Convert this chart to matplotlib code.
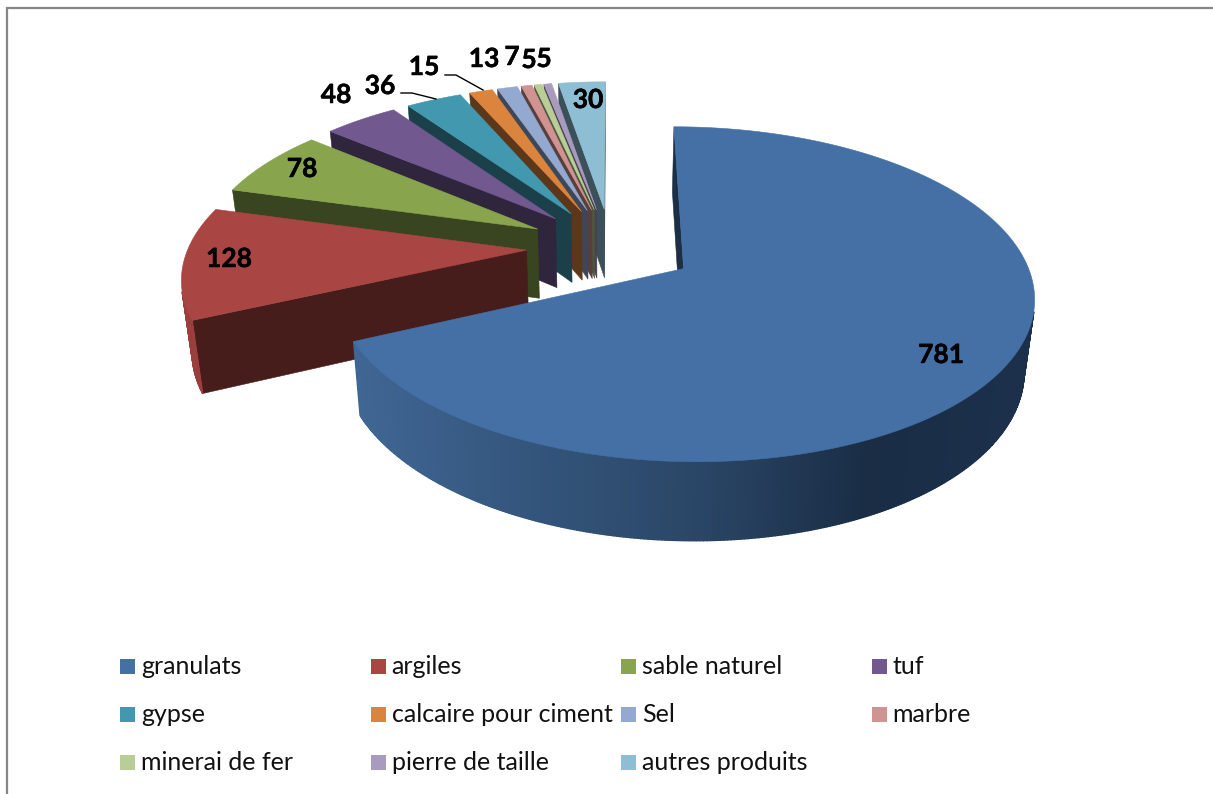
import numpy as np
import matplotlib
matplotlib.use('Agg')
import matplotlib.pyplot as plt
import matplotlib.patheffects as pe
from matplotlib.patches import Polygon, Rectangle
from matplotlib.colors import to_rgb

plt.rcParams['font.family'] = ['Lato', 'DejaVu Sans']

categories = ['granulats', 'argiles', 'sable naturel', 'tuf', 'gypse',
              'calcaire pour ciment', 'Sel', 'marbre', 'minerai de fer',
              'pierre de taille', 'autres produits']
values = [781, 128, 78, 48, 36, 15, 13, 7, 5, 5, 30]
colors = ['#4470A5', '#A94543', '#88A44D', '#71588F', '#4198AF', '#DB843D',
          '#93A9CF', '#D19392', '#B9CD96', '#A99BBD', '#8EBED3']

# data label centres, in the same pixel frame as the pie
label_pos = [(941, 355), (229, 259), (302, 169), (336, 95), (380, 86),
             (424, 67), (484, 59), (512, 57), (529, 60), (544, 59), (588, 100)]

# projection of the tilted pie
CX, CY = 611, 247
RX, RY = 338, 157
PERSP = 0.15
EXPLODE = 0.25
DEPTH = 70
BOTTOM_SCALE = 0.975


def project(u, v, bottom=False):
    s = 1 / (1 + PERSP * v)
    x = RX * u * s
    y = -RY * v * s
    if bottom:
        return CX + x * BOTTOM_SCALE, CY + y * BOTTOM_SCALE + DEPTH * s
    return CX + x, CY + y


def darker(color, f):
    return tuple(c * f for c in to_rgb(color))


def draw_quad(ax, top_a, top_b, low_b, low_a, color, lw=0.4):
    # only faces turned towards the viewer get drawn
    pts = np.array([top_a, top_b, low_b, low_a])
    x, y = pts[:, 0], pts[:, 1]
    area = np.sum(x * np.roll(y, -1) - np.roll(x, -1) * y)
    if area < 0:
        ax.add_patch(Polygon(pts, closed=True, fc=color, ec=color, lw=lw))


def wall_shade(x):
    # horizontal shading of the long outer wall
    stops = [355, 540, 700, 870, 1035]
    reds = [0.25, 0.20, 0.165, 0.10, 0.11]
    greens = [0.40, 0.33, 0.275, 0.175, 0.19]
    blues = [0.58, 0.48, 0.40, 0.27, 0.30]
    return (np.interp(x, stops, reds), np.interp(x, stops, greens),
            np.interp(x, stops, blues))


def draw_wedge(ax, start, stop, color, wall_factor, shaded):
    mid = np.radians((start + stop) / 2)
    ou, ov = EXPLODE * np.sin(mid), EXPLODE * np.cos(mid)
    th = np.radians(np.linspace(start, stop, max(int(stop - start) * 2, 6) + 1))
    us = ou + np.sin(th)
    vs = ov + np.cos(th)

    wall = darker(color, wall_factor)
    apex = project(ou, ov)
    apex_low = project(ou, ov, True)
    # radial faces, apex to rim on the start side and rim to apex on the end side
    first = project(us[0], vs[0])
    first_low = project(us[0], vs[0], True)
    last = project(us[-1], vs[-1])
    last_low = project(us[-1], vs[-1], True)
    draw_quad(ax, apex, first, first_low, apex_low, wall)
    draw_quad(ax, last, apex, apex_low, last_low, wall)

    # outer wall, one strip per arc step
    for i in range(len(th) - 1):
        a = project(us[i], vs[i])
        b = project(us[i + 1], vs[i + 1])
        c = project(us[i + 1], vs[i + 1], True)
        d = project(us[i], vs[i], True)
        if shaded:
            fc = wall_shade((a[0] + b[0]) / 2)
        else:
            fc = darker(color, 0.92)
        draw_quad(ax, a, b, c, d, fc, lw=1.0)

    # top face
    top = [apex] + [project(u, v) for u, v in zip(us, vs)]
    ax.add_patch(Polygon(top, closed=True, fc=color, ec=color, lw=0.4))


def main():
    fig = plt.figure(figsize=(12.13, 7.94), dpi=100)
    ax = fig.add_axes([0, 0, 1, 1])
    ax.set_xlim(0, 1213)
    ax.set_ylim(794, 0)
    ax.axis('off')

    # chart frame, only its top and left sides fall inside the figure
    ax.plot([7, 7, 1213], [794, 7.5, 7.5], color='#868686', lw=1.6,
            solid_joinstyle='miter')

    total = sum(values)
    edges = np.concatenate([[0], np.cumsum(values)]) / total * 360

    # back slices first, so the nearer ones paint over them
    for i in range(len(values) - 1, -1, -1):
        draw_wedge(ax, edges[i], edges[i + 1], colors[i], 0.42, i == 0)

    # Lato bold is a bit light for these, so thicken it with a thin stroke
    heavy = [pe.withStroke(linewidth=0.35, foreground='black')]
    for val, (x, y) in zip(values, label_pos):
        ax.text(x, y, str(val), fontsize=19, fontweight='bold', color='black',
                ha='center', va='center', path_effects=heavy)

    # leader lines for the two labels pulled off their slices
    ax.plot([401, 412, 436], [93, 93, 99], color='black', lw=1)
    ax.plot([445, 456, 483], [75, 75, 90], color='black', lw=1)

    # legend, four columns
    for i, name in enumerate(categories):
        row, col = divmod(i, 4)
        x = 120 + col * 250.5
        y = 666 + row * 48
        ax.add_patch(Rectangle((x, y - 7.5), 15, 15, fc=colors[i], ec='none'))
        ax.text(x + 21, y, name, fontsize=18, color='#111111', ha='left', va='center')

    fig.savefig('out.png', dpi=100)


if __name__ == "__main__":
    main()
